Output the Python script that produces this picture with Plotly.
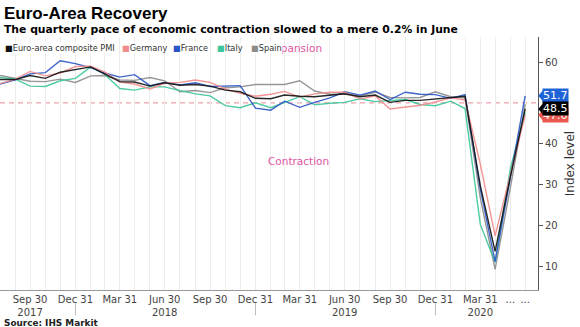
import pandas as pd
import plotly.graph_objects as go

months = pd.date_range("2017-07-31", periods=36, freq=pd.offsets.MonthEnd())

euro_area = [55.7, 55.7, 56.7, 56.0, 57.5, 58.1,
             58.8, 57.1, 55.2, 55.1, 54.1, 54.9, 54.3, 54.5, 54.1, 53.1, 52.7, 51.1,
             51.0, 51.9, 51.6, 51.5, 51.8, 52.2, 51.5, 51.9, 50.1, 50.6, 50.6, 50.9,
             51.3, 51.6, 29.7, 13.6, 31.9, 48.5]
germany = [54.7, 55.8, 57.7, 56.6, 57.3, 58.9,
           59.0, 57.6, 55.1, 54.6, 53.4, 54.8, 55.0, 55.6, 55.0, 53.4, 52.3, 51.6,
           52.1, 52.8, 51.4, 52.2, 52.6, 52.6, 50.9, 51.7, 48.5, 48.9, 49.4, 50.2,
           51.2, 50.7, 35.0, 17.4, 32.3, 47.0]
france = [54.6, 55.6, 57.1, 57.4, 60.3, 59.6,
          58.6, 57.3, 56.3, 56.9, 54.2, 55.0, 54.4, 54.9, 54.0, 54.1, 54.2, 48.7,
          48.2, 50.4, 48.9, 50.1, 51.2, 52.7, 51.9, 52.9, 50.8, 52.6, 52.1, 52.0,
          51.1, 52.0, 28.9, 11.1, 32.1, 51.7]
italy = [56.2, 55.8, 54.1, 54.0, 55.4, 56.0,
         58.8, 57.0, 53.5, 53.1, 53.9, 53.9, 53.0, 52.2, 51.7, 49.3, 48.8, 50.0,
         48.8, 50.1, 51.5, 49.5, 49.9, 50.1, 51.0, 50.3, 50.6, 50.8, 49.6, 49.3,
         50.4, 48.6, 20.2, 10.9, 33.9, 47.6]
spain = [56.7, 56.0, 55.3, 55.2, 55.8, 55.0,
         56.6, 56.7, 55.6, 55.5, 56.2, 55.4, 52.7, 53.0, 52.5, 53.7, 53.9, 54.5,
         54.5, 54.5, 55.4, 52.9, 52.1, 52.1, 51.7, 52.6, 51.3, 51.2, 51.3, 52.7,
         51.5, 51.2, 26.7, 9.2, 29.2, 49.7]

series_names = ["Euro-area composite PMI", "Germany", "France", "Italy", "Spain"]
series_values = [euro_area, germany, france, italy, spain]
series_colors = ["#111111", "#f28b8b", "#2a56c6", "#3cc79a", "#8c8c8c"]

tick_dates = ["2017-09-30", "2017-12-31", "2018-03-31", "2018-06-30", "2018-09-30",
              "2018-12-31", "2019-03-31", "2019-06-30", "2019-09-30", "2019-12-31",
              "2020-03-31", "2020-05-31", "2020-06-30"]
tick_labels = ["Sep 30<br>2017", "Dec 31", "Mar 31", "Jun 30<br>2018", "Sep 30",
               "Dec 31", "Mar 31", "Jun 30<br>2019", "Sep 30", "Dec 31",
               "Mar 31<br>2020", "...", "..."]
year_breaks = ["2017-12-31", "2018-12-31", "2019-12-31"]

label_values = [germany[-1], france[-1], euro_area[-1]]
label_colors = ["#e8584f", "#1f63d6", "#000000"]

fig = go.Figure()
draw_order = [4, 3, 2, 1, 0]
for i in draw_order:
    fig.add_trace(go.Scatter(
        x=months, y=series_values[i], mode="lines", name=series_names[i],
        line=dict(color=series_colors[i], width=1.4),
        opacity=0.9, showlegend=False))

FONT = "DejaVu Sans"
shapes = [dict(type="line", xref="paper", x0=0, x1=1, yref="y", y0=50, y1=50,
               line=dict(color="#eaa3a8", width=1.3, dash="5px,4px"), layer="below")]
for d in year_breaks:
    shapes.append(dict(type="line", xref="x", x0=d, x1=d, yref="paper", y0=-0.052, y1=-0.1,
                       line=dict(color="#bbbbbb", width=1)))

annotations = []
annotations.append(dict(text="Expansion", xref="x", yref="y", x="2019-03-21", y=63.4,
                        showarrow=False, font=dict(family=FONT, size=10.5, color="#e0559f")))
annotations.append(dict(text="Contraction", xref="x", yref="y", x="2019-03-28", y=35.8,
                        showarrow=False, font=dict(family=FONT, size=10.5, color="#e0559f")))
# legend
leg_x = [4, 121, 172, 216, 250]
for name, col, lx in zip(series_names, series_colors, leg_x):
    annotations.append(dict(
        text=f'<span style="color:{col}">■</span><span style="color:#333333">{name}</span>',
        xref="paper", yref="paper", x=lx / 538, y=(290 - 48) / 253,
        xanchor="left", yanchor="middle", showarrow=False, bgcolor="white", borderpad=0,
        font=dict(family=FONT, size=8.2)))
# value labels on right
for v, col in zip(label_values, label_colors):
    annotations.append(dict(
        text=f"{v:.1f}", xref="paper", yref="y", x=1, y=v, xanchor="left", yanchor="middle",
        xshift=4, showarrow=False, bgcolor=col, borderpad=0,
        font=dict(family=FONT, size=11, color="white")))
    shapes.append(dict(type="path", xref="paper", yref="y",
                       path=f"M 1.0005 {v} L 1.0095 {v + 1.4} L 1.0095 {v - 1.4} Z",
                       fillcolor=col, line=dict(width=0)))
# titles
annotations.append(dict(text="<b>Euro-Area Recovery</b>", xref="paper", yref="paper",
                        x=2 / 538, y=(290 - 13) / 253, xanchor="left", yanchor="middle",
                        showarrow=False, font=dict(family="Liberation Sans", size=17, color="#000")))
annotations.append(dict(text="<b>The quarterly pace of economic contraction slowed to a mere 0.2% in June</b>",
                        xref="paper", yref="paper",
                        x=2 / 538, y=(290 - 30) / 253, xanchor="left", yanchor="middle",
                        showarrow=False, font=dict(family=FONT, size=10.8, color="#000")))
annotations.append(dict(text="<b>Source: IHS Markit</b>", xref="paper", yref="paper",
                        x=2 / 538, y=(290 - 322.5) / 253, xanchor="left", yanchor="middle",
                        showarrow=False, font=dict(family=FONT, size=8.9, color="#222")))

monthly_grid = [d.strftime("%Y-%m-%d") for d in months]

fig.update_layout(
    width=580, height=327, margin=dict(l=0, r=42, t=37, b=37),
    paper_bgcolor="white", plot_bgcolor="white",
    font=dict(family=FONT, color="#444"),
    shapes=shapes, annotations=annotations,
    xaxis=dict(type="date", range=["2017-07-31", "2020-07-26"],
               tickmode="array", tickvals=tick_dates, ticktext=tick_labels,
               tickfont=dict(family=FONT, size=10, color="#444"),
               showgrid=True, gridcolor="#ececec", gridwidth=1,
               minor=dict(tickmode="array", tickvals=monthly_grid, showgrid=True,
                          gridcolor="#ececec", gridwidth=1),
               showline=True, linecolor="#999999", linewidth=1, ticks="", zeroline=False),
    yaxis=dict(side="right", range=[4.12, 66.13], tickmode="array",
               tickvals=[10, 20, 30, 40, 60], ticks="outside", ticklen=4,
               tickcolor="#555", showgrid=False, zeroline=False,
               showline=True, linecolor="#555555", linewidth=1,
               tickfont=dict(family=FONT, size=10, color="#444"),
               title=dict(text="Index level", font=dict(family=FONT, size=12, color="#333"),
                          standoff=8)),
)
fig.write_html("out.html")
